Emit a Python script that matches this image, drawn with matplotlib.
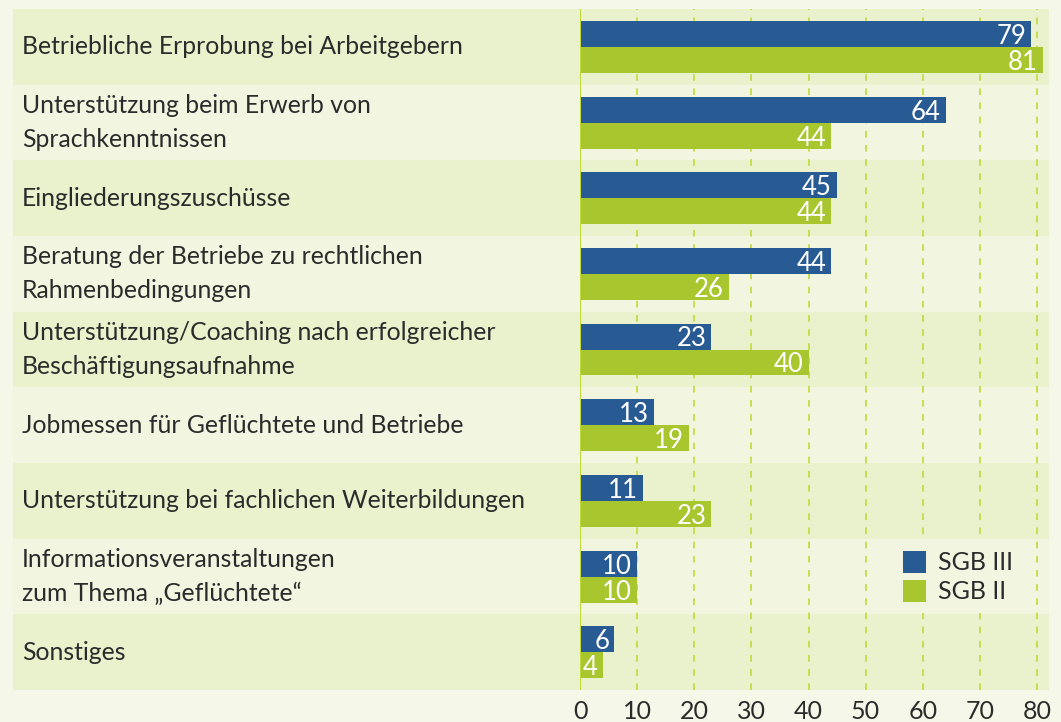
import matplotlib
matplotlib.use('Agg')
import matplotlib.pyplot as plt
from matplotlib.patches import Rectangle, Patch
from matplotlib.transforms import blended_transform_factory, offset_copy

plt.rcParams['font.family'] = ['Lato', 'DejaVu Sans']

categories = ['Betriebliche Erprobung bei Arbeitgebern',
              'Unterstützung beim Erwerb von\nSprachkenntnissen',
              'Eingliederungszuschüsse',
              'Beratung der Betriebe zu rechtlichen\nRahmenbedingungen',
              'Unterstützung/Coaching nach erfolgreicher\nBeschäftigungsaufnahme',
              'Jobmessen für Geflüchtete und Betriebe',
              'Unterstützung bei fachlichen Weiterbildungen',
              'Informationsveranstaltungen\nzum Thema \u201eGeflüchtete\u201c',
              'Sonstiges']
sgb3 = [79, 64, 45, 44, 23, 13, 11, 10, 6]
sgb2 = [81, 44, 44, 26, 40, 19, 23, 10, 4]
series_names = ['SGB III', 'SGB II']
xticks = [0, 10, 20, 30, 40, 50, 60, 70, 80]

BLUE = '#285A93'
GREEN = '#A8C62E'
BAND_DARK = '#EAF1CD'
BAND_LIGHT = '#F2F6E0'
BG = '#F5F7E8'
TXT = '#2B2B2B'
GRID = '#C3D93A'
FS = 17.8

W, H = 1061, 722
fig = plt.figure(figsize=(W / 100, H / 100), dpi=100)
fig.patch.set_facecolor(BG)

# axes spans x=0 at px 580 to band edge px 1049, rows px 9..690
ax = fig.add_axes([580 / W, 1 - 690 / H, (1049 - 580) / W, (690 - 9) / H])
ax.set_facecolor('none')
px_per_unit = (1037 - 580) / 80.0
ax.set_xlim(0, (1049 - 580) / px_per_unit)
n = len(categories)
ax.set_ylim(n - 0.5, -0.5)

# row bands across full width + category labels
trans = blended_transform_factory(fig.transFigure, ax.transData)
for i in range(n):
    col = BAND_DARK if i % 2 == 0 else BAND_LIGHT
    ax.add_patch(Rectangle((13 / W, i - 0.5), (1049 - 13) / W, 1.0,
                           transform=trans, facecolor=col, edgecolor='none',
                           clip_on=False, zorder=0))
    fig.text(22 / W, i, categories[i], transform=trans, fontsize=FS,
             color=TXT, va='center', ha='left', linespacing=1.58)

# grid lines
for x in xticks[1:]:
    ax.axvline(x, color=GRID, lw=1.2, ls=(0, (4, 4.5)), zorder=1)
ax.axvline(0, color=GRID, lw=1.5, zorder=3)

h = 26 / ((690 - 9) / n)
ys = list(range(n))
ax.barh([y - h / 2 for y in ys], sgb3, height=h, color=BLUE, zorder=2)
ax.barh([y + h / 2 for y in ys], sgb2, height=h, color=GREEN, zorder=2)

lab_trans = offset_copy(ax.transData, fig=fig, x=-5, y=-2.5, units='dots')
for y, v in zip(ys, sgb3):
    ax.text(v, y - h / 2, str(v), transform=lab_trans, color='white',
            fontsize=18.5, ha='right', va='center', zorder=4)
for y, v in zip(ys, sgb2):
    ax.text(v, y + h / 2, str(v), transform=lab_trans, color='white',
            fontsize=18.5, ha='right', va='center', zorder=4)

ax.set_xticks(xticks)
ax.set_xticklabels([str(x) for x in xticks], fontsize=18, color=TXT)
ax.set_yticks([])
ax.tick_params(axis='x', length=0, pad=7)
for s in ax.spines.values():
    s.set_visible(False)

handles = [Patch(facecolor=BLUE, edgecolor='none'),
           Patch(facecolor=GREEN, edgecolor='none')]
leg = ax.legend(handles, series_names, loc='center left',
                bbox_to_anchor=((880 - 580) / (1049 - 580), 1 - (577 - 9) / (690 - 9)),
                fontsize=18, frameon=True, fancybox=False,
                handlelength=0.95, handleheight=1.0, handletextpad=0.45,
                labelspacing=0.2, borderpad=0.4)
leg.get_frame().set_facecolor(BAND_LIGHT)
leg.get_frame().set_edgecolor('none')
leg.get_frame().set_alpha(1)
for t in leg.get_texts():
    t.set_color(TXT)

fig.savefig('out.png', dpi=100, facecolor=BG)
